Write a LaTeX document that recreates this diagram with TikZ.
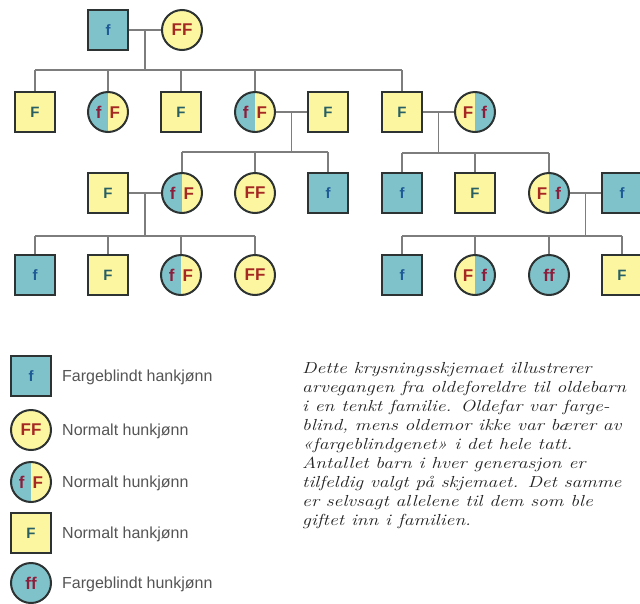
\documentclass[tikz,border=0pt]{standalone}
\usepackage{fontspec}
\setsansfont{Liberation Sans}
\usetikzlibrary{calc}
\definecolor{tealc}{RGB}{128,194,202}
\definecolor{yelc}{RGB}{253,246,160}
\definecolor{bordc}{RGB}{45,50,50}
\definecolor{linec}{RGB}{125,125,125}
\definecolor{bluet}{RGB}{30,90,150}
\definecolor{greent}{RGB}{40,95,100}
\definecolor{redt}{RGB}{165,40,35}
\definecolor{magt}{RGB}{140,30,60}
\definecolor{legt}{RGB}{85,85,85}
\definecolor{parat}{RGB}{35,35,35}
\tikzset{
  base/.style={draw=bordc, line width=2pt, minimum size=40pt, inner sep=0pt, font=\sffamily\bfseries\fontsize{15}{15}\selectfont},
  fsq/.style={base, rectangle, fill=tealc, text=bluet},
  Fsq/.style={base, rectangle, fill=yelc, text=greent},
  cbase/.style={base, circle, font=\sffamily\bfseries\fontsize{17}{17}\selectfont},
  FFc/.style={cbase, fill=yelc, text=redt},
  ffc/.style={cbase, fill=tealc, text=magt},
  fFc/.style={cbase, fill=yelc, text=redt,
    path picture={\fill[tealc] (path picture bounding box.south west) rectangle (path picture bounding box.north);}},
  Ffc/.style={cbase, fill=yelc, text=redt,
    path picture={\fill[tealc] (path picture bounding box.south) rectangle (path picture bounding box.north east);}},
  conn/.style={draw=linec, line width=1.5pt},
  legtext/.style={anchor=west, inner sep=0pt, text=legt, font=\sffamily\fontsize{16}{16}\selectfont},
  paraline/.style={anchor=base west, inner sep=0pt, text=parat, transform shape,
    font=\itshape\fontsize{16}{19}\selectfont},
}
\newcommand{\fF}{\textcolor{magt}{f}\hspace{8pt}F}
\newcommand{\Ff}{F\hspace{8pt}\textcolor{magt}{f}}
\begin{document}
\begin{tikzpicture}[x=1pt,y=-1pt]
\useasboundingbox (0,0) rectangle (640,603);
\fill[white] (0,0) rectangle (640,603);
% bar levels
\coordinate (h2) at (0,70);
\coordinate (h3l) at (0,152);
\coordinate (h3r) at (0,153);
\coordinate (h4) at (0,236);
% generation 1
\node[fsq] (g1a) at (108,30) {f};
\node[FFc] (g1b) at (182,30) {FF};
% generation 2
\node[Fsq] (g2a) at (35,112) {F};
\node[fFc] (g2b) at (108,112) {\fF};
\node[Fsq] (g2c) at (181,112) {F};
\node[fFc] (g2d) at (255,112) {\fF};
\node[Fsq] (g2e) at (328,112) {F};
\node[Fsq] (g2f) at (402,112) {F};
\node[Ffc] (g2g) at (475,112) {\Ff};
% generation 3
\node[Fsq] (g3a) at (108,193) {F};
\node[fFc] (g3b) at (182,193) {\fF};
\node[FFc] (g3c) at (255,193) {FF};
\node[fsq] (g3d) at (328,193) {f};
\node[fsq] (g3e) at (402,193) {f};
\node[Fsq] (g3f) at (475,193) {F};
\node[Ffc] (g3g) at (549,193) {\Ff};
\node[fsq] (g3h) at (622,193) {f};
% generation 4
\node[fsq] (g4a) at (35,275) {f};
\node[Fsq] (g4b) at (108,275) {F};
\node[fFc] (g4c) at (181,275) {\fF};
\node[FFc] (g4d) at (255,275) {FF};
\node[fsq] (g4e) at (402,275) {f};
\node[Ffc] (g4f) at (475,275) {\Ff};
\node[ffc] (g4g) at (549,275) {\textcolor{magt}{ff}};
\node[Fsq] (g4h) at (622,275) {F};
% couples and drops
\path[conn] (g1a.east) -- (g1b.west);
\coordinate (m1) at ($(g1a.east)!0.5!(g1b.west)$);
\path[conn] (m1) -- (m1 |- h2);
\path[conn] (g2a.north |- h2) -- (g2f.north |- h2);
\foreach \n in {g2a,g2b,g2c,g2d,g2f} \path[conn] (\n.north) -- (\n.north |- h2);

\path[conn] (g2d.east) -- (g2e.west);
\coordinate (m2) at ($(g2d.east)!0.5!(g2e.west)$);
\path[conn] (m2) -- (m2 |- h3l);
\path[conn] (g3b.north |- h3l) -- (g3d.north |- h3l);
\foreach \n in {g3b,g3c,g3d} \path[conn] (\n.north) -- (\n.north |- h3l);

\path[conn] (g2f.east) -- (g2g.west);
\coordinate (m3) at ($(g2f.east)!0.5!(g2g.west)$);
\path[conn] (m3) -- (m3 |- h3r);
\path[conn] (g3e.north |- h3r) -- (g3g.north |- h3r);
\foreach \n in {g3e,g3f,g3g} \path[conn] (\n.north) -- (\n.north |- h3r);

\path[conn] (g3a.east) -- (g3b.west);
\coordinate (m4) at ($(g3a.east)!0.5!(g3b.west)$);
\path[conn] (m4) -- (m4 |- h4);
\path[conn] (g4a.north |- h4) -- (g4d.north |- h4);
\foreach \n in {g4a,g4b,g4c,g4d} \path[conn] (\n.north) -- (\n.north |- h4);

\path[conn] (g3g.east) -- (g3h.west);
\coordinate (m5) at ($(g3g.east)!0.5!(g3h.west)$);
\path[conn] (m5) -- (m5 |- h4);
\path[conn] (g4e.north |- h4) -- (g4h.north |- h4);
\foreach \n in {g4e,g4f,g4g,g4h} \path[conn] (\n.north) -- (\n.north |- h4);
% legend
\node[fsq] (l1) at (31,376) {f};
\node[FFc] (l2) at (31,430) {FF};
\node[fFc] (l3) at (31,482) {\fF};
\node[Fsq] (l4) at (31,533) {F};
\node[ffc] (l5) at (31,583) {\textcolor{magt}{ff}};
\node[legtext] (t1) at (62,377) {Fargeblindt hankjønn};
\node[legtext] (t2) at (62,431) {Normalt hunkjønn};
\node[legtext] (t3) at (62,483) {Normalt hunkjønn};
\node[legtext] (t4) at (62,534) {Normalt hankjønn};
\node[legtext] (t5) at (62,584) {Fargeblindt hunkjønn};
% paragraph
\begin{scope}[shift={(302,0)}, xscale=1.22]
\node[paraline] (p1) at (0,373) {Dette krysningsskjemaet illustrerer};
\node[paraline] (p2) at (0,392) {arvegangen fra oldeforeldre til oldebarn};
\node[paraline] (p3) at (0,411) {i en tenkt familie. Oldefar var farge-};
\node[paraline] (p4) at (0,430) {blind, mens oldemor ikke var bærer av};
\node[paraline] (p5) at (0,449) {«fargeblindgenet» i det hele tatt.};
\node[paraline] (p6) at (0,468) {Antallet barn i hver generasjon er};
\node[paraline] (p7) at (0,487) {tilfeldig valgt på skjemaet. Det samme};
\node[paraline] (p8) at (0,506) {er selvsagt allelene til dem som ble};
\node[paraline] (p9) at (0,525) {giftet inn i familien.};
\end{scope}
\end{tikzpicture}
\end{document}
